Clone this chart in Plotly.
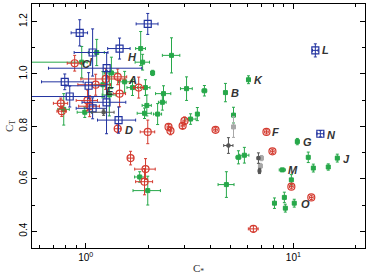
import numpy as np
import plotly.graph_objects as go

# ---- data ----
blue_x = [1.99, 0.936, 1.08, 1.456, 1.262, 0.793, 1.033, 0.838, 1.08, 1.26, 1.44, 12.76, 13.49]
blue_y = [1.191, 1.157, 1.082, 1.097, 1.022, 0.970, 0.955, 0.914, 0.869, 0.892, 0.824, 1.09, 0.772]
blue_xerr = [0.24, 0.085, 0.2, 0.18, 0.6, 0.18, 0.23, 0.4, 0.18, 0.3, 0.3, 0.4, 0.5]
blue_yerr = [0.04, 0.05, 0.09, 0.04, 0.06, 0.03, 0.05, 0.04, 0.04, 0.12, 0.05, 0.025, 0.012]

red_x = [0.885, 1.426, 1.248, 1.117, 1.80, 1.456, 0.759, 0.767, 1.02, 1.045, 1.426, 1.99, 2.506,
         2.56, 2.93, 2.99, 4.22, 7.42, 7.93, 9.78, 12.2, 6.42, 1.645, 1.942, 1.92]
red_y = [1.041, 0.989, 0.981, 0.959, 0.948, 0.925, 0.888, 0.858, 0.899, 0.877, 0.791, 0.779, 0.798,
         0.783, 0.802, 0.821, 0.787, 0.779, 0.705, 0.570, 0.529, 0.409, 0.679, 0.637, 0.589]
red_xerr = [0.07, 0.15, 0.3, 0.2, 0.1, 0.1, 0.06, 0.04, 0.12, 0.12, 0.05, 0.16, 0.04, 0.04, 0.05,
            0.05, 0.08, 0.15, 0.15, 0.2, 0.25, 0.35, 0.05, 0.22, 0.18]
red_yerr = [0.03, 0.03, 0.04, 0.04, 0.04, 0.05, 0.02, 0.02, 0.04, 0.04, 0.015, 0.045, 0.01, 0.015,
            0.01, 0.015, 0.008, 0.008, 0.008, 0.008, 0.008, 0.012, 0.026, 0.04, 0.05]

green_x = [2.59, 6.08, 4.71, 3.73, 3.06, 3.45, 3.20, 5.15, 10.45, 16.28, 11.8, 12.48, 14.73, 8.85,
           9.78, 8.11, 9.05, 9.15, 10.1, 5.44, 5.81, 4.76, 2.37, 1.97, 1.92, 2.22, 1.82, 1.99,
           1.84, 1.88, 2.10, 2.34, 1.94, 0.957, 0.784, 0.99, 1.21, 1.33, 1.13, 1.30, 1.54, 1.68]
green_y = [1.071, 0.978, 0.929, 0.936, 0.944, 0.847, 0.828, 0.843, 0.742, 0.679, 0.682, 0.641,
           0.645, 0.634, 0.596, 0.507, 0.529, 0.488, 0.507, 0.682, 0.690, 0.578, 0.925, 0.880,
           0.850, 0.847, 0.607, 0.555, 1.097, 1.045, 1.004, 0.892, 0.948, 1.045, 0.865, 0.854,
           0.959, 1.004, 1.082, 0.92, 0.97, 0.948]
green_xerr = [0.25, 0.1, 0.05, 0.1, 0.2, 0.05, 0.2, 0.05, 0.2, 0.3, 0.15, 0.15, 0.15, 0.3, 0.15,
              0.15, 0.15, 0.15, 0.15, 0.15, 0.3, 0.42, 0.2, 0.1, 0.15, 0.1, 0.1, 0.3, 0.1, 0.15,
              0.03, 0.1, 0.1, 0.06, 0.05, 0.08, 0.1, 0.1, 0.1, 0.1, 0.1, 0.1]
green_xerr_minus = [0.25, 0.1, 0.05, 0.1, 0.2, 0.05, 0.2, 0.05, 0.2, 0.3, 0.15, 0.15, 0.15, 0.3, 0.15,
                    0.15, 0.15, 0.15, 0.15, 0.15, 0.3, 0.42, 0.2, 0.1, 0.15, 0.1, 0.1, 0.3, 0.1, 0.15,
                    0.03, 0.1, 0.1, 0.5, 0.05, 0.08, 0.1, 0.1, 0.1, 0.1, 0.1, 0.1]
green_yerr = [0.067, 0.015, 0.035, 0.02, 0.045, 0.025, 0.02, 0.03, 0.012, 0.015, 0.02, 0.015, 0.012,
              0.006, 0.02, 0.02, 0.02, 0.015, 0.015, 0.025, 0.03, 0.049, 0.03, 0.04, 0.02, 0.04,
              0.02, 0.055, 0.065, 0.03, 0.01, 0.03, 0.03, 0.06, 0.06, 0.02, 0.05, 0.06, 0.05, 0.08,
              0.04, 0.03]

dgray_x = [4.87, 6.79, 6.87, 1.22]
dgray_y = [0.727, 0.679, 0.630, 0.854]
dgray_xerr = [0.25, 0.1, 0.05, 0.15]
dgray_yerr = [0.03, 0.02, 0.01, 0.012]

lgray_x = [5.15, 7.02, 6.94]
lgray_y = [0.798, 0.679, 0.649]
lgray_xerr = [0.1, 0.05, 0.05]
lgray_yerr = [0.04, 0.01, 0.01]

label_text = ["L", "K", "B", "F", "N", "G", "J", "M", "O", "H", "A", "C", "I", "E", "D"]
label_x = [13.5, 6.35, 4.92, 7.75, 14.25, 10.92, 17.0, 9.25, 10.69, 1.57, 1.57, 0.936, 1.02, 1.22, 1.506]
label_y = [1.09, 0.978, 0.929, 0.779, 0.768, 0.742, 0.675, 0.634, 0.503, 1.064, 0.978, 1.037, 1.045, 0.936, 0.787]

x_tickvals = [1, 10]
x_ticktext = ["10<sup>0</sup>", "10<sup>1</sup>"]
x_minor = [0.6, 0.7, 0.8, 0.9, 2, 3, 4, 5, 6, 7, 8, 9, 20]
y_tickvals = [0.4, 0.6, 0.8, 1.0, 1.2]
y_ticktext = ["0.4", "0.6", "0.8", "1.0", "1.2"]
y_minor = [0.5, 0.7, 0.9, 1.1]

BLUE = "#2233a0"
RED = "#d43a2f"
GREEN = "#27a84a"
DGRAY = "#555555"
LGRAY = "#a8a8a8"

fig = go.Figure()


def add(x, y, xe, ye, color, symbol, size, xem=None, lw=1.0):
    fig.add_trace(go.Scatter(
        x=x, y=y, mode="markers",
        marker=dict(symbol=symbol, size=size, color=color, line=dict(color=color, width=lw)),
        error_x=dict(type="data", array=xe, arrayminus=xem if xem is not None else xe,
                     symmetric=xem is None, color=color, thickness=1, width=1.5),
        error_y=dict(type="data", array=ye, color=color, thickness=1, width=1.5),
        showlegend=False, hoverinfo="skip"))


add(green_x, green_y, green_xerr, green_yerr, GREEN, "square", 4, xem=green_xerr_minus)
add(red_x, red_y, red_xerr, red_yerr, RED, "circle-open", 7, lw=1.2)
add(blue_x, blue_y, blue_xerr, blue_yerr, BLUE, "square-open", 7, lw=1.2)
add(lgray_x, lgray_y, lgray_xerr, lgray_yerr, LGRAY, "square", 4)
add(dgray_x, dgray_y, dgray_xerr, dgray_yerr, DGRAY, "square", 3)

for t, lx, ly in zip(label_text, label_x, label_y):
    fig.add_annotation(x=np.log10(lx), y=ly, xref="x", yref="y", text="<b><i>%s</i></b>" % t,
                       showarrow=False, xanchor="left", yanchor="middle",
                       font=dict(family="Liberation Sans", size=11, color="#333333"))

axis_common = dict(showline=True, linecolor="black", linewidth=1, mirror="ticks",
                   ticks="inside", ticklen=5, tickcolor="black", showgrid=False, zeroline=False,
                   tickfont=dict(family="Liberation Sans", size=10, color="black"))

fig.update_layout(
    width=369, height=276,
    margin=dict(l=32, r=4, t=3, b=24),
    paper_bgcolor="white", plot_bgcolor="white",
    xaxis=dict(type="log", range=[-0.2585, 1.345], tickmode="array", tickvals=x_tickvals,
               ticktext=x_ticktext,
               minor=dict(tickmode="array", tickvals=x_minor, ticks="inside", ticklen=3,
                          tickcolor="black", showgrid=False),
               title=dict(text="C<sub>*</sub>", font=dict(family="Liberation Serif", size=11, color="#333"),
                          standoff=2),
               **axis_common),
    yaxis=dict(range=[0.336, 1.267], tickmode="array", tickvals=y_tickvals, ticktext=y_ticktext,
               tickangle=-90,
               minor=dict(tickmode="array", tickvals=y_minor, ticks="inside", ticklen=3,
                          tickcolor="black", showgrid=False),
               title=dict(text="C<sub>T</sub>", font=dict(family="Liberation Serif", size=11, color="#333"),
                          standoff=2),
               **axis_common),
)

fig.write_html("out.html")
